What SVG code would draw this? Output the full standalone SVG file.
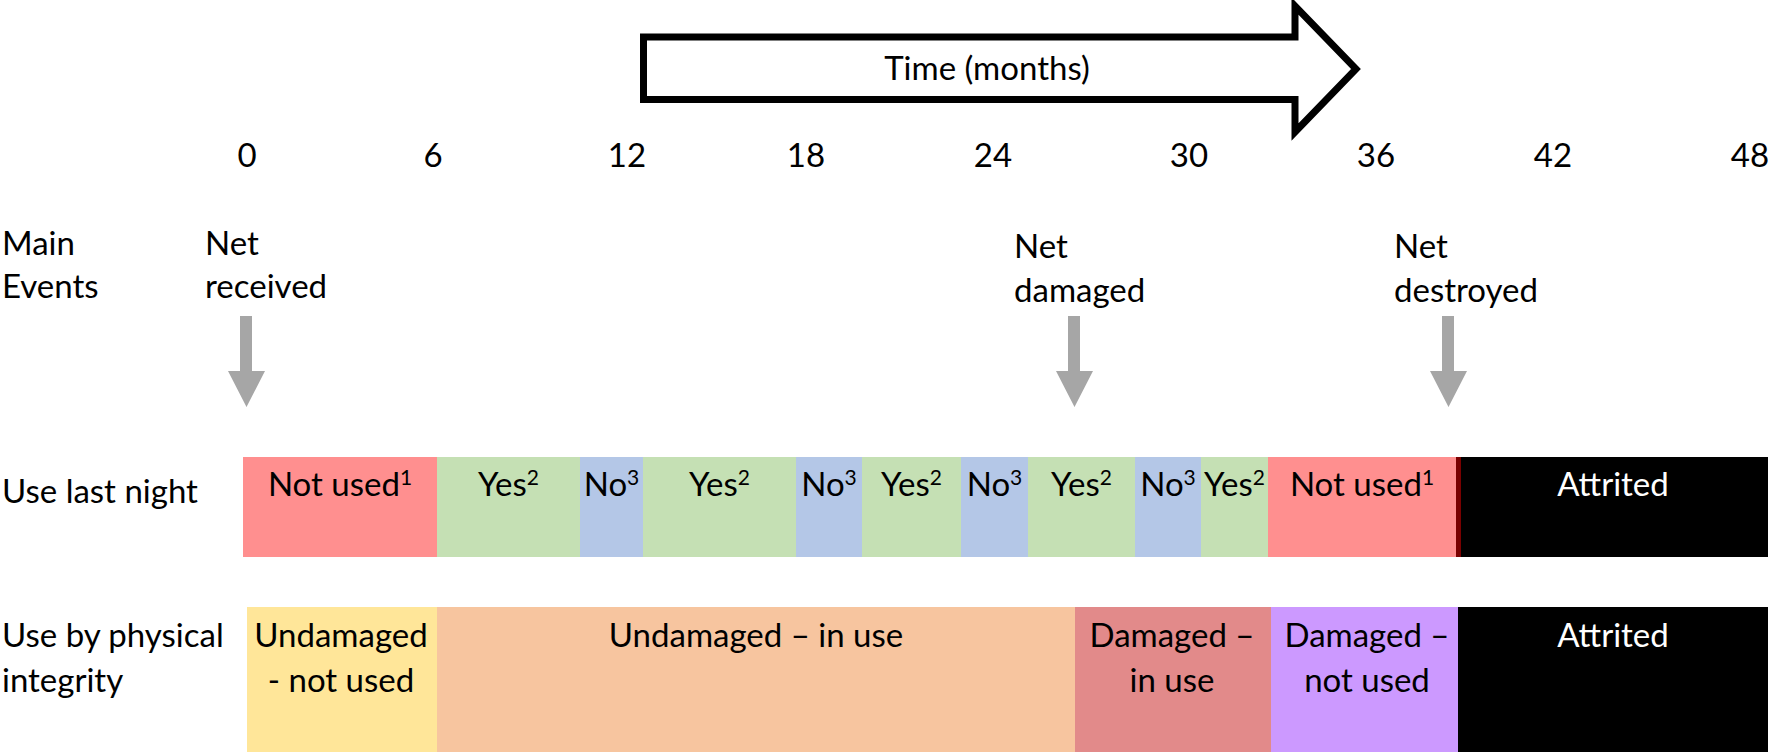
<svg xmlns="http://www.w3.org/2000/svg" width="1770" height="752" viewBox="0 0 1770 752">
<style>
text{font-family:Lato,"Open Sans","Liberation Sans",sans-serif;font-size:33px;fill:#000}
.c{text-anchor:middle}
.w{fill:#fff}
.sup{font-size:21px}
.ev{fill:#A6A6A6}
</style>
<defs>
<polygon id="down" points="-6,0 6,0 6,55 19,55 0.5,91 -18,55 -6,55"/>
</defs>
<rect width="1770" height="752" fill="#fff"/>
<g id="time-arrow">
<polygon points="643.5,37 1295,37 1295,6 1356,69 1295,132 1295,99.5 643.5,99.5" fill="#fff" stroke="#000" stroke-width="7"/>
<text class="c" x="987" y="80">Time (months)</text>
</g>
<g id="axis">
<text class="c" x="247" y="167">0</text>
<text class="c" x="433" y="167">6</text>
<text class="c" x="627" y="167">12</text>
<text class="c" x="806" y="167">18</text>
<text class="c" x="993" y="167">24</text>
<text class="c" x="1189" y="167">30</text>
<text class="c" x="1376" y="167">36</text>
<text class="c" x="1553" y="167">42</text>
<text class="c" x="1750" y="167">48</text>
</g>
<g id="row-labels">
<text x="2" y="255">Main</text>
<text x="2" y="298">Events</text>
<text x="2" y="503">Use last night</text>
<text x="2" y="647">Use by physical</text>
<text x="2" y="692">integrity</text>
</g>
<g id="event-received">
<text x="205" y="255">Net</text>
<text x="205" y="298">received</text>
</g>
<g id="event-damaged">
<text x="1014" y="258">Net</text>
<text x="1014" y="302">damaged</text>
</g>
<g id="event-destroyed">
<text x="1394" y="258">Net</text>
<text x="1394" y="302">destroyed</text>
</g>
<g id="connectors">
<use href="#down" class="ev" x="246" y="316"/>
<use href="#down" class="ev" x="1074" y="316"/>
<use href="#down" class="ev" x="1448" y="316"/>
</g>
<g id="use-last-night">
<rect x="243" y="457" width="194" height="100" fill="#FF8F8F"/>
<rect x="437" y="457" width="143" height="100" fill="#C5E0B4"/>
<rect x="580" y="457" width="63" height="100" fill="#B4C7E7"/>
<rect x="643" y="457" width="153" height="100" fill="#C5E0B4"/>
<rect x="796" y="457" width="66" height="100" fill="#B4C7E7"/>
<rect x="862" y="457" width="99" height="100" fill="#C5E0B4"/>
<rect x="961" y="457" width="67" height="100" fill="#B4C7E7"/>
<rect x="1028" y="457" width="107" height="100" fill="#C5E0B4"/>
<rect x="1135" y="457" width="66" height="100" fill="#B4C7E7"/>
<rect x="1201" y="457" width="67" height="100" fill="#C5E0B4"/>
<rect x="1268" y="457" width="188" height="100" fill="#FF8F8F"/>
<rect x="1456" y="457" width="5" height="100" fill="#7A0000"/>
<rect x="1461" y="457" width="307" height="100" fill="#000"/>
<text class="c" x="340" y="496">Not used<tspan class="sup" dy="-11">1</tspan></text>
<text class="c" x="508.5" y="496">Yes<tspan class="sup" dy="-11">2</tspan></text>
<text class="c" x="611.5" y="496">No<tspan class="sup" dy="-11">3</tspan></text>
<text class="c" x="719.5" y="496">Yes<tspan class="sup" dy="-11">2</tspan></text>
<text class="c" x="829" y="496">No<tspan class="sup" dy="-11">3</tspan></text>
<text class="c" x="911.5" y="496">Yes<tspan class="sup" dy="-11">2</tspan></text>
<text class="c" x="994.5" y="496">No<tspan class="sup" dy="-11">3</tspan></text>
<text class="c" x="1081.5" y="496">Yes<tspan class="sup" dy="-11">2</tspan></text>
<text class="c" x="1168" y="496">No<tspan class="sup" dy="-11">3</tspan></text>
<text class="c" x="1234.5" y="496">Yes<tspan class="sup" dy="-11">2</tspan></text>
<text class="c" x="1362" y="496">Not used<tspan class="sup" dy="-11">1</tspan></text>
<text class="c w" x="1613" y="496">Attrited</text>
</g>
<g id="physical-integrity">
<rect x="247" y="607" width="190" height="145" fill="#FFE699"/>
<rect x="437" y="607" width="638" height="145" fill="#F7C59F"/>
<rect x="1075" y="607" width="196" height="145" fill="#E28A8A"/>
<rect x="1271" y="607" width="187" height="145" fill="#CC99FF"/>
<rect x="1458" y="607" width="310" height="145" fill="#000"/>
<text class="c" x="341" y="647">Undamaged</text>
<text class="c" x="341" y="692">- not used</text>
<text class="c" x="756" y="647">Undamaged – in use</text>
<text class="c" x="1172" y="647">Damaged –</text>
<text class="c" x="1172" y="692">in use</text>
<text class="c" x="1367" y="647">Damaged –</text>
<text class="c" x="1367" y="692">not used</text>
<text class="c w" x="1613" y="647">Attrited</text>
</g>
</svg>
